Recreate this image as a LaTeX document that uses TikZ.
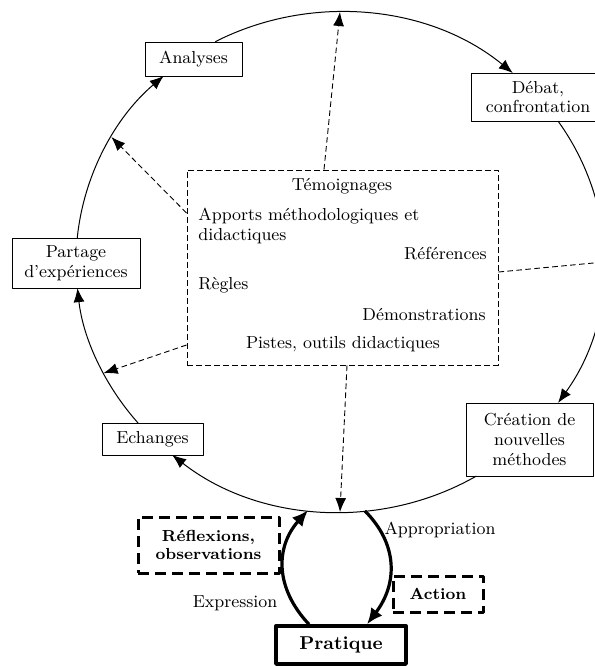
\documentclass[tikz,border=0pt]{standalone}
\usepackage{fontspec}
\usetikzlibrary{arrows.meta,calc}
\begin{document}
\begin{tikzpicture}[x=0.5pt, y=-0.5pt, font=\fontsize{8.7}{9.8}\selectfont, line join=round,
    >={Latex[length=7pt,width=5.5pt]},
    box/.style={draw, line width=0.5pt, fill=white, align=center, inner sep=0pt},
    bbox/.style={draw, line width=1.5pt, dash pattern=on 5.5pt off 3pt, align=center, inner sep=0pt,
      font=\fontsize{8}{9}\selectfont\bfseries},
    dline/.style={line width=0.45pt, dash pattern=on 2.8pt off 1.7pt},
    item/.style={inner sep=0pt},
    flux/.style={line width=1.6pt, -{Latex[length=8pt,width=7pt]}}]
  \useasboundingbox (0,0) rectangle (595,666);
  \clip (0,0) rectangle (595,666);
  \coordinate (c) at (340,262); % centre de l'ellipse (demi-axes 132pt et 125pt)
  % etapes du cycle
  \node[box, minimum width=48.5pt, minimum height=17pt] (ana) at (193.5,59) {Analyses};
  \node[box, minimum width=66.5pt, minimum height=24pt] (deb) at (538,97) {Débat,\\confrontation};
  \node[box, minimum width=64pt, minimum height=25pt] (par) at (76,263) {Partage\\d'expériences};
  \node[box, minimum width=50.5pt, minimum height=16pt] (ech) at (152.5,439) {Echanges};
  \node[box, minimum width=63.5pt, minimum height=36.5pt] (cre) at (529.5,439.5) {Création de\\nouvelles\\méthodes};
  % ressources
  \node[draw, dline, minimum width=155.5pt, minimum height=97.5pt] (res) at (342.5,267.5) {};
  \node[item] (tem) at (342,186) {Témoignages};
  \node[item, anchor=west, align=left] (app) at (198,226) {Apports méthodologiques et\\didactiques};
  \node[item, anchor=east] (ref) at (487,254) {Références};
  \node[item, anchor=west] (reg) at (198,285) {Règles};
  \node[item, anchor=east] (dem) at (486,315) {Démonstrations};
  \node[item] (pis) at (343,344) {Pistes, outils didactiques};
  % pratique
  \node[bbox, minimum width=70.5pt, minimum height=28pt] (rfl) at (208.5,545) {Réflexions,\\observations};
  \node[bbox, minimum width=45pt, minimum height=18pt] (act) at (438,594) {Action};
  \node[draw, line width=1.7pt, minimum width=65pt, minimum height=19pt,
    font=\fontsize{9.3}{11}\selectfont\bfseries] (pra) at (341,645) {Pratique};
  \node[item] (apr) at (440,530) {Appropriation};
  \node[item] (exp) at (235,603) {Expression};
  % points sur l'ellipse
  \path (c) ++(-58.9:132pt and 125pt) coordinate (e-cre)
        (c) ++(-139.9:132pt and 125pt) coordinate (e-ech)
        (c) ++(-185.5:132pt and 125pt) coordinate (e-par)
        (c) ++(-241.8:132pt and 125pt) coordinate (e-ana)
        (c) ++(-325.7:132pt and 125pt) coordinate (e-deb)
        (c) ++(90:132pt and 125pt) coordinate (e-top)
        (c) ++(150:132pt and 125pt) coordinate (e-ul)
        (c) ++(-153.6:132pt and 125pt) coordinate (e-ll)
        (c) ++(0:132pt and 125pt) coordinate (e-r)
        (c) ++(-90:132pt and 125pt) coordinate (e-bot)
        (c) ++(-96.96:132pt and 125pt) coordinate (e-exp)
        (c) ++(-84.6:132pt and 125pt) coordinate (e-apr);
  \draw[line width=0.5pt, ->] (e-cre) arc[start angle=-58.9, end angle=-129.5, x radius=132pt, y radius=125pt];
  \draw[line width=0.5pt, ->] (e-ech) arc[start angle=-139.9, end angle=-174, x radius=132pt, y radius=125pt];
  \draw[line width=0.5pt, ->] (e-par) arc[start angle=-185.5, end angle=-228.1, x radius=132pt, y radius=125pt];
  \draw[line width=0.5pt, ->] (e-ana) arc[start angle=-241.8, end angle=-310.9, x radius=132pt, y radius=125pt];
  \draw[line width=0.5pt, ->] (e-deb) arc[start angle=-325.7, end angle=-394.3, x radius=132pt, y radius=125pt];
  % apports vers le cycle
  \draw[dline, ->] ($(res.north)+(-18.5,0)$) -- (e-top);
  \draw[dline, ->] ($(res.west)+(0,-54.5)$) -- (e-ul);
  \draw[dline, ->] ($(res.west)+(0,77.5)$) -- (e-ll);
  \draw[dline] ($(res.east)+(0,4.5)$) -- (e-r);
  \draw[dline, ->] ($(res.south)+(4.5,0)$) -- (e-bot);
  % expression / appropriation
  \draw[flux] ($(pra.north)+(-32,0)$) .. controls +(-34,-36) and +(-33,37) .. (e-exp);
  \draw[flux] (e-apr) .. controls +(33,33) and +(31,-41) .. ($(pra.north)+(26,0)$);
\end{tikzpicture}
\end{document}
